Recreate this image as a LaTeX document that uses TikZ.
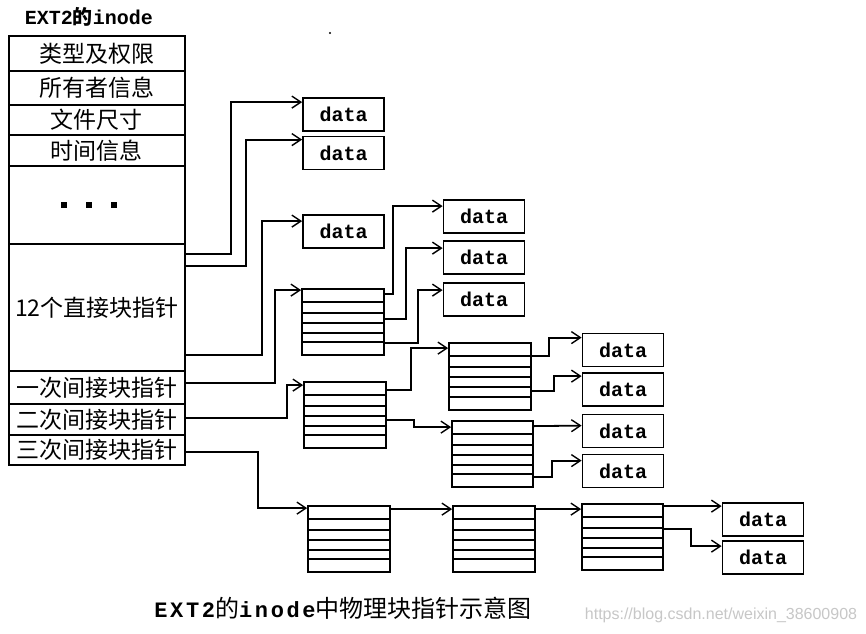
\documentclass[tikz,border=0pt]{standalone}
\usepackage{fontspec}
\newfontfamily\cjk{Noto Sans CJK SC}
\newfontfamily\mono{Liberation Mono}
\newfontfamily\wm{Liberation Sans}
\usetikzlibrary{arrows.meta,calc}
\begin{document}
\begin{tikzpicture}[x=1pt,y=-1pt,line width=1.8pt,
  arr/.style={-{Straight Barb[length=9pt,width=12pt,line width=1.4pt]}},
  cell/.style={draw,inner sep=0pt,minimum width=176pt,anchor=north west,font=\cjk\fontsize{23}{23}\selectfont},
  databox/.style={draw,inner sep=0pt,minimum width=81pt,minimum height=33pt,font=\mono\bfseries\fontsize{20}{20}\selectfont},
  ptrblock/.style={draw,inner sep=0pt,minimum width=82pt,minimum height=66pt,
    path picture={\foreach \f in {0.19,0.36,0.51,0.66,0.80}{
      \draw[line width=2pt] ($(path picture bounding box.north west)!\f!(path picture bounding box.south west)$) -- ($(path picture bounding box.north east)!\f!(path picture bounding box.south east)$);}}}
]
\useasboundingbox (0,0) rectangle (866,633);
\fill[white] (0,0) rectangle (866,633);

% title
\node[anchor=west,inner sep=0pt,font=\mono\bfseries\fontsize{20}{20}\selectfont] (title) at (24,17) {EXT2{\cjk\fontsize{20}{20}\selectfont 的}inode};
\fill (330,33) circle (1.2pt);

% inode table
\node[cell,minimum height=35pt] (r1) at (8,35) {类型及权限};
\node[cell,minimum height=34pt] (r2) at (8,70) {所有者信息};
\node[cell,minimum height=30pt] (r3) at (8,104) {文件尺寸};
\node[cell,minimum height=31pt] (r4) at (8,134) {时间信息};
\node[cell,minimum height=78pt] (r5) at (8,165) {};
\node[cell,minimum height=127pt] (r6) at (8,243) {12个直接块指针};
\node[cell,minimum height=33pt] (r7) at (8,370) {一次间接块指针};
\node[cell,minimum height=31pt] (r8) at (8,403) {二次间接块指针};
\node[cell,minimum height=30pt] (r9) at (8,434) {三次间接块指针};
\foreach \dx in {-33,-8,17}{
  \fill ($(r5.center)+(\dx-2.8,-2.8)$) rectangle ++(5.6,5.6);
}

% data boxes
\node[databox] (d1) at (343.5,114.5) {data};
\node[databox] (d2) at (343.5,153) {data};
\node[databox] (d3) at (343.5,231.5) {data};
\node[databox] (e1) at (484,216.5) {data};
\node[databox] (e2) at (484,257.5) {data};
\node[databox] (e3) at (484,299.5) {data};
\node[databox] (f1) at (623,350) {data};
\node[databox] (f2) at (623,389.5) {data};
\node[databox] (f3) at (623,431) {data};
\node[databox] (f4) at (623,471) {data};
\node[databox] (g1) at (763,519.5) {data};
\node[databox] (g2) at (763,557.5) {data};

% pointer blocks
\node[ptrblock] (b1) at (343,322) {};
\node[ptrblock] (b2) at (345,415) {};
\node[ptrblock,minimum height=67pt] (b3) at (490,376.5) {};
\node[ptrblock,minimum width=81pt] (b4) at (492.5,454) {};
\node[ptrblock] (b5) at (349,539) {};
\node[ptrblock] (b6) at (494,539) {};
\node[ptrblock,minimum width=81pt] (b7) at (622.5,537) {};

% connectors from inode
\draw[arr] ([yshift=-11pt]r6.north east) -- ++(45,0) |- ([yshift=-5pt]d1.north west);
\draw[arr] ([yshift=-23pt]r6.north east) -- ++(60,0) |- ([yshift=-4pt]d2.north west);
\draw[arr] ([yshift=-112pt]r6.north east) -- ++(76,0) |- ([yshift=-7pt]d3.north west);
\draw[arr] ([yshift=-13pt]r7.north east) -- ++(89,0) |- ([yshift=-2pt]b1.north west);
\draw[arr] ([yshift=-15pt]r8.north east) -- ++(101,0) |- ([yshift=-4pt]b2.north west);
\draw[arr] ([yshift=-18pt]r9.north east) -- ++(72,0) |- ([yshift=-3pt]b5.north west);

% single indirect
\draw[arr] ([yshift=-6pt]b1.north east) -- ++(8,0) |- ([yshift=-7pt]e1.north west);
\draw[arr] ([yshift=-31pt]b1.north east) -- ++(21,0) |- ([yshift=-8pt]e2.north west);
\draw[arr] ([yshift=-55pt]b1.north east) -- ++(33,0) |- ([yshift=-8pt]e3.north west);

% double indirect
\draw[arr] ([yshift=-9pt]b2.north east) -- ++(24,0) |- ([yshift=-6pt]b3.north west);
\draw[arr] ([yshift=-39pt]b2.north east) -- ++(27,0) |- ([yshift=-7pt]b4.north west);
\draw[arr] ([yshift=-14pt]b3.north east) -- ++(17,0) |- ([yshift=-5pt]f1.north west);
\draw[arr] ([yshift=-49pt]b3.north east) -- ++(22,0) |- ([yshift=-4pt]f2.north west);
\draw[arr] ([yshift=-6pt]b4.north east) -- ([yshift=-12pt]f3.north west);
\draw[arr] ([yshift=-57pt]b4.north east) -- ++(18,0) |- ([yshift=-7pt]f4.north west);

% triple indirect
\draw[arr] ([yshift=-4pt]b5.north east) -- ([yshift=-4pt]b6.north west);
\draw[arr] ([yshift=-4pt]b6.north east) -- ([yshift=-6pt]b7.north west);
\draw[arr] ([yshift=-3pt]b7.north east) -- ([yshift=-4pt]g1.north west);
\draw[arr] ([yshift=-26pt]b7.north east) -- ++(27,0) |- ([yshift=-6pt]g2.north west);

% caption
\node[inner sep=0pt,font=\cjk\fontsize{24}{24}\selectfont] (caption) at (343,608)
  {{\mono\bfseries\fontsize{22}{22}\selectfont\addfontfeature{LetterSpace=12}EXT2}的{\mono\bfseries\fontsize{22}{22}\selectfont\addfontfeature{LetterSpace=12}inode}中物理块指针示意图};
\node[inner sep=0pt,font=\wm\fontsize{16}{16}\selectfont,text=black!22] (watermark) at (721,615) {https://blog.csdn.net/weixin\_38600908};
\end{tikzpicture}
\end{document}
